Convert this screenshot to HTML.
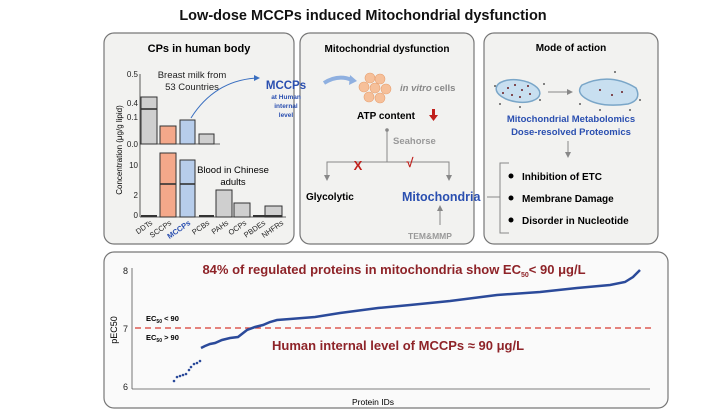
<!DOCTYPE html>
<html><head><meta charset="utf-8"><style>
body{margin:0;background:#fff;}
svg{display:block;font-family:"Liberation Sans",Arial,sans-serif;}
</style></head><body>
<svg width="727" height="413" viewBox="0 0 727 413" xmlns="http://www.w3.org/2000/svg">
<defs>
<marker id="ar" markerWidth="6" markerHeight="6" refX="3" refY="3" orient="auto"><path d="M0,0 L6,3 L0,6 z" fill="#888"/></marker>
</defs>
<text x="363" y="20" font-size="14.5" font-weight="bold" text-anchor="middle" fill="#111">Low-dose MCCPs induced Mitochondrial dysfunction</text>
<rect x="104" y="33" width="190" height="211" rx="10" fill="#f2f2f0" stroke="#777" stroke-width="1.2"/>
<rect x="300" y="33" width="174" height="211" rx="10" fill="#f2f2f0" stroke="#777" stroke-width="1.2"/>
<rect x="484" y="33" width="174" height="211" rx="10" fill="#f2f2f0" stroke="#777" stroke-width="1.2"/>
<rect x="104" y="252" width="564" height="156" rx="10" fill="#fafafa" stroke="#777" stroke-width="1.2"/>

<text x="199" y="52" font-size="11" font-weight="bold" text-anchor="middle">CPs in human body</text>
<g font-size="8" fill="#222" text-anchor="end">
<text x="138" y="77">0.5</text><text x="138" y="106">0.4</text><text x="138" y="120">0.1</text><text x="138" y="147">0.0</text>
<text x="138" y="168">10</text><text x="138" y="198">2</text><text x="138" y="218">0</text>
</g>
<line x1="140" y1="74" x2="140" y2="217" stroke="#333" stroke-width="0.8"/>
<line x1="140" y1="144" x2="220" y2="144" stroke="#333" stroke-width="0.8"/>
<line x1="140" y1="217" x2="286" y2="217" stroke="#333" stroke-width="0.8"/>
<text x="122" y="150" font-size="8" transform="rotate(-90 122 150)" text-anchor="middle">Concentration (μg/g lipid)</text>
<text x="192" y="78" font-size="9.5" text-anchor="middle" fill="#222">Breast milk from</text>
<text x="192" y="90" font-size="9.5" text-anchor="middle" fill="#222">53 Countries</text>
<g stroke="#333" stroke-width="1">
<rect x="141" y="97" width="16" height="47" fill="#cfcfcf"/><line x1="141" y1="109" x2="157" y2="109" stroke-width="1.6"/>
<rect x="160" y="126" width="16" height="18" fill="#f4a88a"/>
<rect x="180" y="120" width="15" height="24" fill="#b7cdeb"/>
<rect x="199" y="134" width="15" height="10" fill="#cfcfcf"/>
<rect x="160" y="153" width="16" height="64" fill="#f4a88a"/><line x1="160" y1="184" x2="176" y2="184" stroke-width="1.6"/>
<rect x="180" y="160" width="15" height="57" fill="#b7cdeb"/><line x1="180" y1="184" x2="195" y2="184" stroke-width="1.6"/>
<rect x="216" y="190" width="16" height="27" fill="#cfcfcf"/>
<rect x="234" y="203" width="16" height="14" fill="#cfcfcf"/>
<rect x="265" y="206" width="17" height="11" fill="#cfcfcf"/>
</g>
<g fill="#333"><rect x="141" y="215" width="16" height="2"/><rect x="199" y="215" width="15" height="2"/><rect x="253" y="215" width="16" height="2"/><rect x="265" y="215" width="17" height="2"/></g>
<text x="233" y="173" font-size="9.5" text-anchor="middle">Blood in Chinese</text>
<text x="233" y="185" font-size="9.5" text-anchor="middle">adults</text>
<g font-size="7.5" fill="#222" text-anchor="end">
<text transform="translate(153,224) rotate(-35)">DDTs</text>
<text transform="translate(172,224) rotate(-35)">SCCPs</text>
<text transform="translate(191,224) rotate(-35)" fill="#2a4fb0" font-weight="bold">MCCPs</text>
<text transform="translate(210,224) rotate(-35)">PCBs</text>
<text transform="translate(229,224) rotate(-35)">PAHs</text>
<text transform="translate(247,224) rotate(-35)">OCPs</text>
<text transform="translate(266,224) rotate(-35)">PBDEs</text>
<text transform="translate(284,224) rotate(-35)">NHFRs</text>
</g>
<path d="M191,118 Q215,80 258,78" fill="none" stroke="#3a6fc0" stroke-width="1"/>
<path d="M254,75 L260,78 L254,81z" fill="#3a6fc0"/>
<text x="286" y="89" font-size="11.5" font-weight="bold" fill="#2a4fb0" text-anchor="middle">MCCPs</text>
<text x="286" y="99" font-size="6.5" font-weight="bold" fill="#2a4fb0" text-anchor="middle">at Human</text>
<text x="286" y="108" font-size="6.5" font-weight="bold" fill="#2a4fb0" text-anchor="middle">internal</text>
<text x="286" y="117" font-size="6.5" font-weight="bold" fill="#2a4fb0" text-anchor="middle">level</text>

<text x="387" y="52" font-size="10" font-weight="bold" text-anchor="middle">Mitochondrial dysfunction</text>
<path d="M324,83 Q338,74 352,80" fill="none" stroke="#8fb0e0" stroke-width="4"/>
<path d="M350,75 L357,81 L349,85z" fill="#8fb0e0"/>
<g fill="#f6c09a" stroke="#e8a070" stroke-width="0.6">
<circle cx="370" cy="78" r="5"/><circle cx="380" cy="79" r="5"/><circle cx="364" cy="87" r="5"/><circle cx="375" cy="88" r="5"/><circle cx="386" cy="89" r="5"/><circle cx="369" cy="97" r="5"/><circle cx="380" cy="98" r="5"/>
</g>
<text x="400" y="91" font-size="9.5" font-weight="bold" fill="#888"><tspan font-style="italic">in vitro</tspan> cells</text>
<text x="357" y="119" font-size="10" font-weight="bold">ATP content</text>
<rect x="432" y="109" width="3" height="7" fill="#c0201c"/><path d="M429,115 L438,115 L433.5,121z" fill="#c0201c"/>
<circle cx="387" cy="130" r="1.8" fill="#888"/>
<line x1="387" y1="130" x2="387" y2="162" stroke="#888"/>
<text x="393" y="144" font-size="9.5" font-weight="bold" fill="#999">Seahorse</text>
<polyline points="327,178 327,162 449,162 449,178" fill="none" stroke="#888" marker-end="url(#ar)"/>
<line x1="327" y1="164" x2="327" y2="178" stroke="#888" marker-end="url(#ar)"/>
<text x="358" y="170" font-size="13" font-weight="bold" fill="#c0201c" text-anchor="middle">X</text>
<text x="410" y="167" font-size="13" font-weight="bold" fill="#c0201c" text-anchor="middle">√</text>
<text x="306" y="200" font-size="10" font-weight="bold">Glycolytic</text>
<text x="402" y="201" font-size="12.5" font-weight="bold" fill="#2a4fb0">Mitochondria</text>
<line x1="440" y1="225" x2="440" y2="208" stroke="#888" marker-end="url(#ar)"/>
<text x="408" y="239" font-size="8.5" font-weight="bold" fill="#999">TEM&amp;MMP</text>

<text x="571" y="51" font-size="10" font-weight="bold" text-anchor="middle">Mode of action</text>
<g fill="#c8dff0" stroke="#7aa6c8" stroke-width="1.5">
<ellipse cx="518" cy="91" rx="22" ry="11" transform="rotate(8 518 91)"/>
<path d="M582,85 Q610,72 636,88 Q642,100 628,104 Q600,108 585,98 Q576,92 582,85z"/>
</g>
<g fill="#6a1a20">
<circle cx="508" cy="88" r="1"/><circle cx="515" cy="85" r="1"/><circle cx="522" cy="90" r="1"/><circle cx="528" cy="86" r="1"/><circle cx="512" cy="95" r="1"/><circle cx="520" cy="97" r="1"/><circle cx="530" cy="94" r="1"/><circle cx="503" cy="93" r="1"/><circle cx="600" cy="90" r="1"/><circle cx="612" cy="95" r="1"/><circle cx="622" cy="92" r="1"/>
</g>
<g fill="#333"><circle cx="495" cy="86" r="0.9"/><circle cx="500" cy="104" r="0.9"/><circle cx="520" cy="107" r="0.9"/><circle cx="540" cy="100" r="0.9"/><circle cx="544" cy="84" r="0.9"/><circle cx="580" cy="104" r="0.9"/><circle cx="600" cy="110" r="0.9"/><circle cx="630" cy="110" r="0.9"/><circle cx="640" cy="100" r="0.9"/><circle cx="615" cy="72" r="0.9"/></g>
<line x1="548" y1="92" x2="570" y2="92" stroke="#888" marker-end="url(#ar)"/>
<text x="571" y="122" font-size="9.5" font-weight="bold" fill="#2a4fb0" text-anchor="middle">Mitochondrial Metabolomics</text>
<text x="571" y="135" font-size="9.5" font-weight="bold" fill="#2a4fb0" text-anchor="middle">Dose-resolved Proteomics</text>
<line x1="568" y1="141" x2="568" y2="155" stroke="#888" marker-end="url(#ar)"/>
<polyline points="509,163 500,163 500,233 509,233" fill="none" stroke="#888"/>
<line x1="487" y1="197" x2="500" y2="197" stroke="#888"/>
<g font-size="10" font-weight="bold">
<circle cx="511" cy="176" r="2.5"/><text x="522" y="180">Inhibition of ETC</text>
<circle cx="511" cy="198" r="2.5"/><text x="522" y="202">Membrane Damage</text>
<circle cx="511" cy="220" r="2.5"/><text x="522" y="224">Disorder in Nucleotide</text>
</g>

<line x1="132" y1="268" x2="132" y2="389" stroke="#555" stroke-width="0.8"/>
<line x1="132" y1="389" x2="650" y2="389" stroke="#555" stroke-width="0.8"/>
<g font-size="9" text-anchor="end" fill="#222"><text x="128" y="274">8</text><text x="128" y="332">7</text><text x="128" y="390">6</text></g>
<text x="117" y="330" font-size="9" transform="rotate(-90 117 330)" text-anchor="middle">pEC50</text>
<text x="373" y="405" font-size="8.5" text-anchor="middle">Protein IDs</text>
<line x1="135" y1="328" x2="655" y2="328" stroke="#d83a32" stroke-width="1.3" stroke-dasharray="6,4"/>
<text x="146" y="321" font-size="7.5" font-weight="bold">EC<tspan font-size="5" dy="2">50</tspan><tspan dy="-2"> &lt; 90</tspan></text>
<text x="146" y="340" font-size="7.5" font-weight="bold">EC<tspan font-size="5" dy="2">50</tspan><tspan dy="-2"> &gt; 90</tspan></text>
<text x="394" y="274" font-size="13" font-weight="bold" fill="#8e2328" text-anchor="middle">84% of regulated proteins in mitochondria show EC<tspan font-size="7" dy="3">50</tspan><tspan dy="-3">&lt; 90 μg/L</tspan></text>
<text x="398" y="350" font-size="13" font-weight="bold" fill="#8e2328" text-anchor="middle">Human internal level of MCCPs ≈ 90 μg/L</text>
<g fill="#2b4a9a">
<circle cx="174" cy="381" r="1.3"/><circle cx="177" cy="377" r="1.3"/><circle cx="180" cy="376" r="1.3"/><circle cx="183" cy="375" r="1.3"/><circle cx="186" cy="374" r="1.3"/><circle cx="189" cy="370" r="1.3"/><circle cx="191" cy="367" r="1.3"/><circle cx="194" cy="364" r="1.3"/><circle cx="197" cy="363" r="1.3"/><circle cx="200" cy="361" r="1.3"/>
</g>
<polyline points="201,348 205,346 210,344 215,343 222,340 230,338 238,337 247,330 255,327 263,325 270,322 277,320 290,319 315,317 340,313 378,308 410,305 450,301 497,295 540,292 577,288 610,285 625,282 633,277 640,270" fill="none" stroke="#2b4a9a" stroke-width="2.5"/>
</svg>
</body></html>
